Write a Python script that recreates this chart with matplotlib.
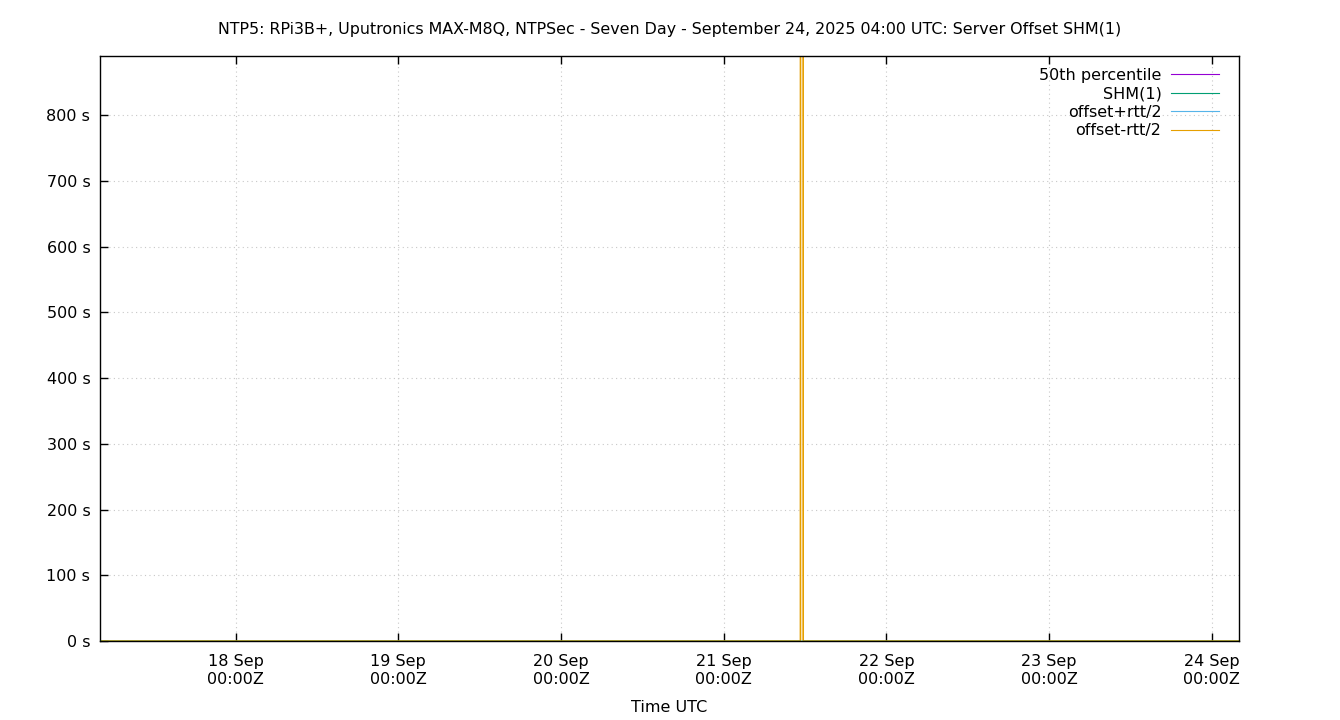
"""
NTP5 seven day server offset chart, SHM(1) refclock
gnuplot-like look in matplotlib
"""
import matplotlib
matplotlib.use('Agg')
import matplotlib.pyplot as plt
import matplotlib.dates as mdates
import pandas as pd

# ---- data ----
sample_times = ['2025-09-17 04:00', '2025-09-21 11:19', '2025-09-21 11:31',
                '2025-09-21 11:43', '2025-09-24 04:00']
p50_offset = [0.0, 0.0, 0.0, 0.0, 0.0]              # seconds
shm1_offset = [0.0, 0.0, 0.0, 0.0, 0.0]
offset_plus_rtt = [0.0, 0.0, 0.0, 0.0, 0.0]
offset_minus_rtt = [0.0, 0.0, 30000.0, 0.0, 0.0]    # spike off the top

tick_days = ['2025-09-18', '2025-09-19', '2025-09-20', '2025-09-21',
             '2025-09-22', '2025-09-23', '2025-09-24']
y_ticks = [0, 100, 200, 300, 400, 500, 600, 700, 800]
x_range = ['2025-09-17 04:00', '2025-09-24 04:00']
y_top = 890

times = pd.to_datetime(sample_times)

fig = plt.figure(figsize=(13.4, 7.2), dpi=100)
ax = fig.add_axes([100/1340, 79/720, 1139/1340, 585/720])

FS = 11.5
ax.plot(times, p50_offset, color='#9400d3', lw=0.7, label='50th percentile', zorder=2)
ax.plot(times, offset_plus_rtt, color='#56b4e9', lw=0.7, label='offset+rtt/2', zorder=2)
ax.plot(times, offset_minus_rtt, color='#e69f00', lw=1.2, label='offset-rtt/2', zorder=2)
ax.plot(times, shm1_offset, color='#009e73', lw=1.0, label='SHM(1)', zorder=3)

ax.set_xlim(pd.to_datetime(x_range[0]), pd.to_datetime(x_range[1]))
ax.set_ylim(0, y_top)

ax.set_xticks(pd.to_datetime(tick_days))
ax.xaxis.set_major_formatter(mdates.DateFormatter('%d Sep\n%H:%MZ'))
ax.set_yticks(y_ticks)
ax.set_yticklabels([f'{v} s' for v in y_ticks])

ax.tick_params(axis='x', direction='in', length=6, width=1, top=True,
               labelsize=FS, pad=9.5)
ax.tick_params(axis='y', direction='in', length=6, width=1, right=False,
               labelsize=FS, pad=7)
for s in ax.spines.values():
    s.set_linewidth(1.0)

ax.grid(True, color='#c8c8c8', linestyle=(0, (1, 3)), lw=0.8)
ax.set_axisbelow(True)

ax.set_xlabel('Time UTC', fontsize=FS, labelpad=9.5)

fig.text(0.5, 1 - 29.5/720, 'NTP5: RPi3B+, Uputronics MAX-M8Q, NTPSec - Seven Day - '
         'September 24, 2025 04:00 UTC: Server Offset SHM(1)',
         ha='center', va='center', fontsize=11.4)

# legend in gnuplot order: label first, then the line sample
h, l = ax.get_legend_handles_labels()
order = ['50th percentile', 'SHM(1)', 'offset+rtt/2', 'offset-rtt/2']
hh = [h[l.index(k)] for k in order]
leg = ax.legend(hh, order, loc='upper right', bbox_to_anchor=(0.9824, 0.98),
                frameon=False, markerfirst=False, fontsize=FS, handlelength=3.0,
                handletextpad=0.6, labelspacing=0.22, borderpad=0, borderaxespad=0)
for ln in leg.get_lines():
    ln.set_linewidth(0.8)

plt.savefig('out.png', dpi=100, facecolor='white')
